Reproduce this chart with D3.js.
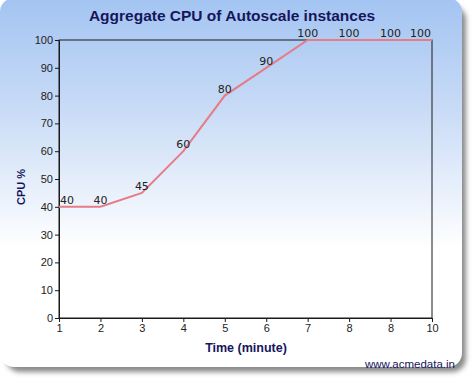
<!DOCTYPE html>
<html>
<head>
<meta charset="utf-8">
<script src="https://cdn.jsdelivr.net/npm/d3@7"></script>
<style>
  body { margin: 0; background: #fff; }
  svg { display: block; font-family: "DejaVu Sans", sans-serif; }
</style>
</head>
<body>
<div id="chart"></div>
<script>
// data
const timeLabels = ["1", "2", "3", "4", "5", "6", "7", "8", "8", "10"]
const cpuValues = [40, 40, 45, 60, 80, 90, 100, 100, 100, 100]
const yTicks = [0, 10, 20, 30, 40, 50, 60, 70, 80, 90, 100]

const width = 474
const height = 379
const margin = {top: 40, right: 42, bottom: 61, left: 59}
const titleFont = "'Liberation Sans', Arial, sans-serif"

const svg = d3.select("#chart").append("svg")
    .attr("width", width)
    .attr("height", height)

const defs = svg.append("defs")
const grad = defs.append("linearGradient")
    .attr("id", "bg").attr("x1", 0).attr("y1", 0).attr("x2", 0).attr("y2", 1)
grad.append("stop").attr("offset", "0%").attr("stop-color", "#a3c4f2")
grad.append("stop").attr("offset", "30%").attr("stop-color", "#c8dbf6")
grad.append("stop").attr("offset", "68%").attr("stop-color", "#ffffff")
grad.append("stop").attr("offset", "100%").attr("stop-color", "#ffffff")

const blur = defs.append("filter").attr("id", "shadow")
    .attr("x", "-5%").attr("y", "-5%").attr("width", "115%").attr("height", "115%")
blur.append("feGaussianBlur").attr("stdDeviation", 2.5)

// frame with shadow
svg.append("rect")
    .attr("x", 6).attr("y", 6).attr("width", 460).attr("height", 366)
    .attr("rx", 14)
    .attr("fill", "#8a8a8a")
    .attr("filter", "url(#shadow)")
svg.append("rect")
    .attr("x", 0).attr("y", -2).attr("width", 462).attr("height", 369)
    .attr("rx", 14)
    .attr("fill", "url(#bg)")

const x = d3.scalePoint()
    .domain(d3.range(timeLabels.length))
    .range([margin.left, width - margin.right])

const y = d3.scaleLinear()
    .domain([0, 100])
    .range([height - margin.bottom, margin.top])

const g = svg.append("g")

// plot frame
g.append("rect")
    .attr("x", margin.left).attr("y", margin.top)
    .attr("width", width - margin.right - margin.left)
    .attr("height", height - margin.bottom - margin.top)
    .attr("fill", "none")
    .attr("stroke", "#1a1a1a")
    .attr("stroke-width", 1)

const yAxis = g.append("g")
    .attr("transform", `translate(${margin.left},0)`)
    .call(d3.axisLeft(y).tickValues(yTicks).tickSize(4).tickPadding(2))
const xAxis = g.append("g")
    .attr("transform", `translate(0,${height - margin.bottom})`)
    .call(d3.axisBottom(x).tickFormat(i => timeLabels[i]).tickSize(4).tickPadding(2))

;[xAxis, yAxis].forEach(a => {
    a.select(".domain").attr("stroke", "#1a1a1a")
    a.selectAll(".tick line").attr("stroke", "#1a1a1a")
    a.selectAll("text").attr("fill", "#222").style("font-size", "11px")
})

// line
const line = d3.line()
    .x((d, i) => x(i))
    .y(d => y(d))

g.append("path")
    .datum(cpuValues)
    .attr("d", line)
    .attr("fill", "none")
    .attr("stroke", "#e57c86")
    .attr("stroke-width", 2)

// value labels, kept inside the plot area
g.selectAll("text.val")
    .data(cpuValues)
    .join("text")
    .attr("class", "val")
    .attr("x", (d, i) => {
        const half = String(d).length * 3.5
        return Math.max(margin.left + half + 1, Math.min(width - margin.right - half - 1, x(i)))
    })
    .attr("y", d => y(d) - 3)
    .attr("text-anchor", "middle")
    .attr("fill", "#222")
    .style("font-size", "11px")
    .text(d => d)

// titles
svg.append("text")
    .attr("x", 232).attr("y", 21)
    .attr("text-anchor", "middle")
    .attr("fill", "#16165c")
    .style("font-family", titleFont)
    .style("font-size", "15.5px")
    .style("font-weight", "bold")
    .text("Aggregate CPU of Autoscale instances")

svg.append("text")
    .attr("transform", "translate(25,187) rotate(-90)")
    .attr("text-anchor", "middle")
    .attr("fill", "#16165c")
    .style("font-family", titleFont)
    .style("font-size", "11px")
    .style("font-weight", "bold")
    .text("CPU %")

svg.append("text")
    .attr("x", 246).attr("y", 352)
    .attr("text-anchor", "middle")
    .attr("fill", "#16165c")
    .style("font-family", titleFont)
    .style("font-size", "12.5px")
    .style("font-weight", "bold")
    .text("Time (minute)")

svg.append("text")
    .attr("x", 455).attr("y", 368)
    .attr("text-anchor", "end")
    .attr("fill", "#16165c")
    .style("font-family", titleFont)
    .style("font-size", "11.5px")
    .text("www.acmedata.in")
</script>
</body>
</html>
